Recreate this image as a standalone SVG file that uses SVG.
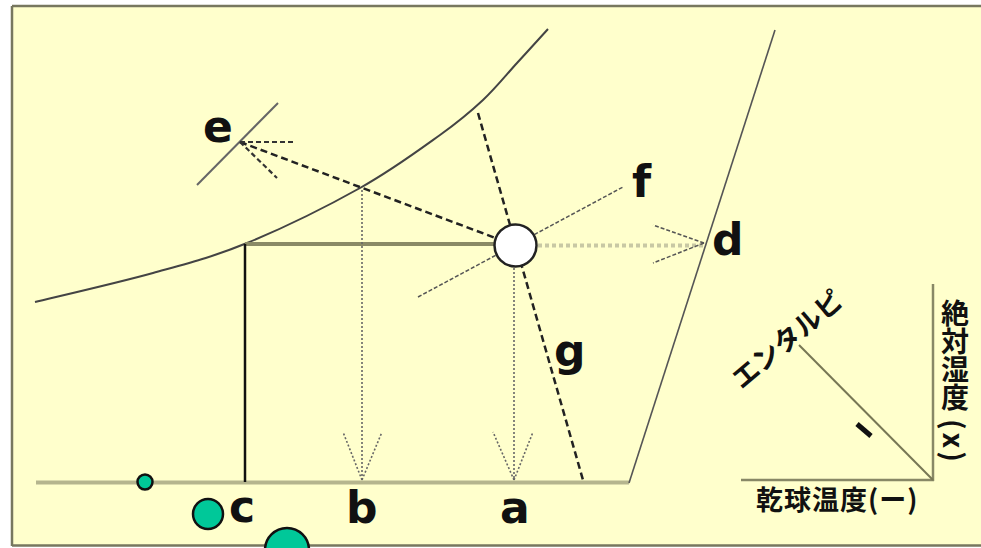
<svg xmlns="http://www.w3.org/2000/svg" width="981" height="548" viewBox="0 0 981 548">
<defs>
<style>
.lbl{font-family:"DejaVu Sans","Liberation Sans",sans-serif;font-weight:bold;font-size:44px;fill:#111}
.jp{font-family:"Noto Sans CJK JP","Noto Sans CJK SC",sans-serif;font-weight:bold;fill:#111}
.dot{fill:none;stroke:#666;stroke-width:1.6;stroke-dasharray:2 2}
.dash{fill:none;stroke:#222;stroke-width:2.5;stroke-dasharray:7 4}
.thin{fill:none;stroke:#555;stroke-width:1.5;stroke-dasharray:4 2}
.arr{fill:none;stroke:#333;stroke-width:2.2;stroke-dasharray:5 3}
.frame{stroke:#77775f;stroke-width:2.5}
.grn{fill:#00C899;stroke:#111;stroke-width:2.5}
</style>
</defs>
<rect x="0" y="0" width="981" height="548" fill="#fff"/>
<rect x="12" y="6" width="969" height="539.5" fill="#FFFFCC"/>
<line x1="12" y1="6" x2="981" y2="6" class="frame"/>
<line x1="12" y1="6" x2="12" y2="546" class="frame"/>
<line x1="12" y1="545.5" x2="981" y2="545.5" class="frame"/>
<g id="connectors">
<line x1="36" y1="482.5" x2="629" y2="482.5" stroke="#B5B58E" stroke-width="4"/>
<path d="M35,302 C54.7,297.2 117.7,282.8 153,273 C188.3,263.2 212.5,257.2 247,243 C281.5,228.8 327.8,206 360,188 C392.2,170 419.5,149.7 440,135 C460.5,120.3 470.2,112 483,100 C495.8,88 506.2,74.8 517,63 C527.8,51.2 542.8,34.7 548,29" fill="none" stroke="#444" stroke-width="2"/>
<line x1="629" y1="483" x2="775" y2="30" stroke="#555" stroke-width="1.6"/>
<line x1="245" y1="244" x2="500" y2="244" stroke="#8A8A66" stroke-width="4"/>
<line x1="245" y1="244" x2="245" y2="482" stroke="#111" stroke-width="2.5"/>
<line x1="197" y1="185" x2="278" y2="103" stroke="#666" stroke-width="2"/>
<line x1="240" y1="142" x2="515.5" y2="245.5" class="dash"/>
<line x1="240" y1="142" x2="293" y2="142" class="arr"/>
<line x1="240" y1="142" x2="277" y2="178" class="arr"/>
<line x1="478" y1="113" x2="583" y2="480" class="dash"/>
<line x1="418" y1="297" x2="623" y2="187" class="thin" stroke-dasharray="3 2"/>
<line x1="538" y1="245.5" x2="703" y2="245.5" stroke="#C8C8A4" stroke-width="4" stroke-dasharray="4 3"/>
<line x1="704" y1="243" x2="653" y2="225" class="thin"/>
<line x1="704" y1="243" x2="653" y2="263" class="thin"/>
<line x1="362" y1="190" x2="362" y2="480" class="dot"/>
<line x1="362" y1="480" x2="343" y2="432" class="dot"/>
<line x1="362" y1="480" x2="382" y2="432" class="dot"/>
<line x1="514" y1="268" x2="514" y2="480" class="dot"/>
<line x1="514" y1="480" x2="493" y2="432" class="dot"/>
<line x1="514" y1="480" x2="533" y2="432" class="dot"/>
</g>
<g id="state-point">
<circle cx="515.5" cy="245.5" r="21" fill="#fff" stroke="#222" stroke-width="2.5"/>
</g>
<g id="labels">
<text class="lbl" x="203" y="142">e</text>
<text class="lbl" x="632" y="197">f</text>
<text class="lbl" x="712" y="255">d</text>
<text class="lbl" x="554" y="366">g</text>
<text class="lbl" x="229" y="522">c</text>
<text class="lbl" x="346" y="523">b</text>
<text class="lbl" x="500" y="523">a</text>
</g>
<g id="legend">
<line x1="933" y1="284" x2="933" y2="481" stroke="#888866" stroke-width="2.5"/>
<line x1="741" y1="480" x2="934" y2="480" stroke="#888866" stroke-width="2.5"/>
<line x1="799" y1="345" x2="933" y2="480" stroke="#777755" stroke-width="2"/>
<line x1="857" y1="424" x2="871" y2="436" stroke="#111" stroke-width="5"/>
<text class="jp" font-size="27" transform="translate(786,338) rotate(-40)" text-anchor="middle" dominant-baseline="central">エンタルピ</text>
<text class="jp" font-size="28" x="955" y="299" style="writing-mode:vertical-rl">絶対湿度</text>
<text class="jp" font-size="28" transform="translate(955,419) rotate(90)" dominant-baseline="central" letter-spacing="3">(x)</text>
<text class="jp" font-size="27" x="756" y="510" letter-spacing="1">乾球温度(ー)</text>
</g>
<g id="markers">
<circle cx="145" cy="482" r="7.5" class="grn"/>
<circle cx="208" cy="514" r="15" class="grn"/>
<circle cx="287" cy="550" r="22" class="grn"/>
</g>
</svg>
